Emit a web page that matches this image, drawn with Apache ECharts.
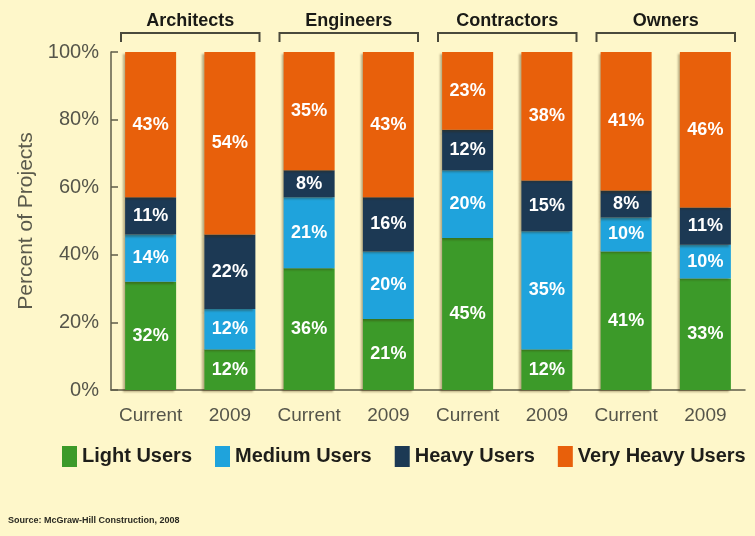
<!DOCTYPE html>
<html>
<head>
<meta charset="utf-8">
<script src="https://cdn.jsdelivr.net/npm/echarts@6/dist/echarts.min.js"></script>
<style>
  html, body { margin: 0; padding: 0; background: #fef7ca; }
  #chart { width: 755px; height: 536px; }
</style>
</head>
<body>
<div id="chart"></div>
<script>
const groups = ['Architects', 'Engineers', 'Contractors', 'Owners']
const periods = ['Current', '2009', 'Current', '2009', 'Current', '2009', 'Current', '2009']

const lightUsers = [32, 12, 36, 21, 45, 12, 41, 33]
const mediumUsers = [14, 12, 21, 20, 20, 35, 10, 10]
const heavyUsers = [11, 22, 8, 16, 12, 15, 8, 11]
const veryHeavyUsers = [43, 54, 35, 43, 23, 38, 41, 46]

const yTicks = [0, 20, 40, 60, 80, 100]

const sans = '"Liberation Sans", Arial, sans-serif'

let myChart = echarts.init(document.getElementById('chart'))

const makeBar = (name, data, color) => ({
  name: name,
  type: 'bar',
  stack: 'total',
  data: data,
  barWidth: 51,
  itemStyle: {
    color: color,
    shadowColor: 'rgba(60,40,0,0.35)',
    shadowBlur: 2,
    shadowOffsetX: -2,
    shadowOffsetY: 2
  },
  label: {
    show: true,
    position: 'inside',
    formatter: '{c}%',
    color: '#fff',
    fontFamily: sans,
    fontWeight: 'bold',
    fontSize: 18
  }
})

let option = {
  backgroundColor: '#fef7ca',
  animation: false,
  grid: {
    left: 111,
    right: 10,
    top: 52,
    bottom: 146
  },
  legend: {
    data: ['Light Users', 'Medium Users', 'Heavy Users', 'Very Heavy Users'],
    left: 57,
    top: 441,
    itemWidth: 15,
    itemHeight: 21,
    itemGap: 23,
    icon: 'rect',
    textStyle: {
      fontFamily: sans,
      fontWeight: 'bold',
      fontSize: 20,
      color: '#1e1e1a'
    }
  },
  xAxis: [
    {
      type: 'category',
      data: periods,
      axisLine: { lineStyle: { color: '#5f5e4a', width: 1.5 } },
      axisTick: { show: false },
      axisLabel: {
        interval: 0,
        color: '#55554a',
        fontFamily: sans,
        fontSize: 19,
        margin: 16
      }
    },
    {
      type: 'category',
      position: 'top',
      data: groups,
      axisLine: { show: false },
      axisTick: { show: false },
      axisLabel: {
        interval: 0,
        color: '#1a1a16',
        fontFamily: sans,
        fontWeight: 'bold',
        fontSize: 18,
        margin: 22
      }
    }
  ],
  yAxis: {
    type: 'value',
    min: 0,
    max: 100,
    interval: 20,
    name: 'Percent of Projects',
    nameLocation: 'middle',
    nameGap: 70,
    nameTextStyle: {
      color: '#5a5a4c',
      fontFamily: sans,
      fontSize: 21
    },
    splitLine: { show: false },
    axisLine: { show: true, lineStyle: { color: '#5f5e4a', width: 1.5 } },
    axisTick: { show: true, inside: true, length: 7, lineStyle: { color: '#5f5e4a', width: 1.5 } },
    axisLabel: {
      color: '#55554a',
      fontFamily: sans,
      fontSize: 20,
      margin: 12,
      formatter: v => yTicks.includes(v) ? v + '%' : ''
    }
  },
  graphic: [
    {
      type: 'text',
      left: 8,
      top: 516,
      style: {
        text: 'Source: McGraw-Hill Construction, 2008',
        fontFamily: sans,
        fontWeight: 'bold',
        fontSize: 9,
        fill: '#2a2a22'
      }
    }
  ],
  series: [
    makeBar('Light Users', lightUsers, '#3c9a29'),
    makeBar('Medium Users', mediumUsers, '#1fa3dc'),
    makeBar('Heavy Users', heavyUsers, '#1c3954'),
    makeBar('Very Heavy Users', veryHeavyUsers, '#e8600b'),
    {
      // brackets over each group, placed through the top category axis
      type: 'custom',
      xAxisIndex: 1,
      silent: true,
      clip: false,
      data: groups.map((g, i) => [i, 100]),
      renderItem: (params, api) => {
        let p = api.coord([api.value(0), api.value(1)])
        let half = api.size([1, 0])[0] / 2 - 10
        let y = p[1] - 19
        return {
          type: 'polyline',
          shape: {
            points: [[p[0] - half, y + 9], [p[0] - half, y], [p[0] + half, y], [p[0] + half, y + 9]]
          },
          style: { stroke: '#4a4a3c', lineWidth: 2, fill: null }
        }
      }
    }
  ]
}
myChart.setOption(option)
</script>
</body>
</html>
